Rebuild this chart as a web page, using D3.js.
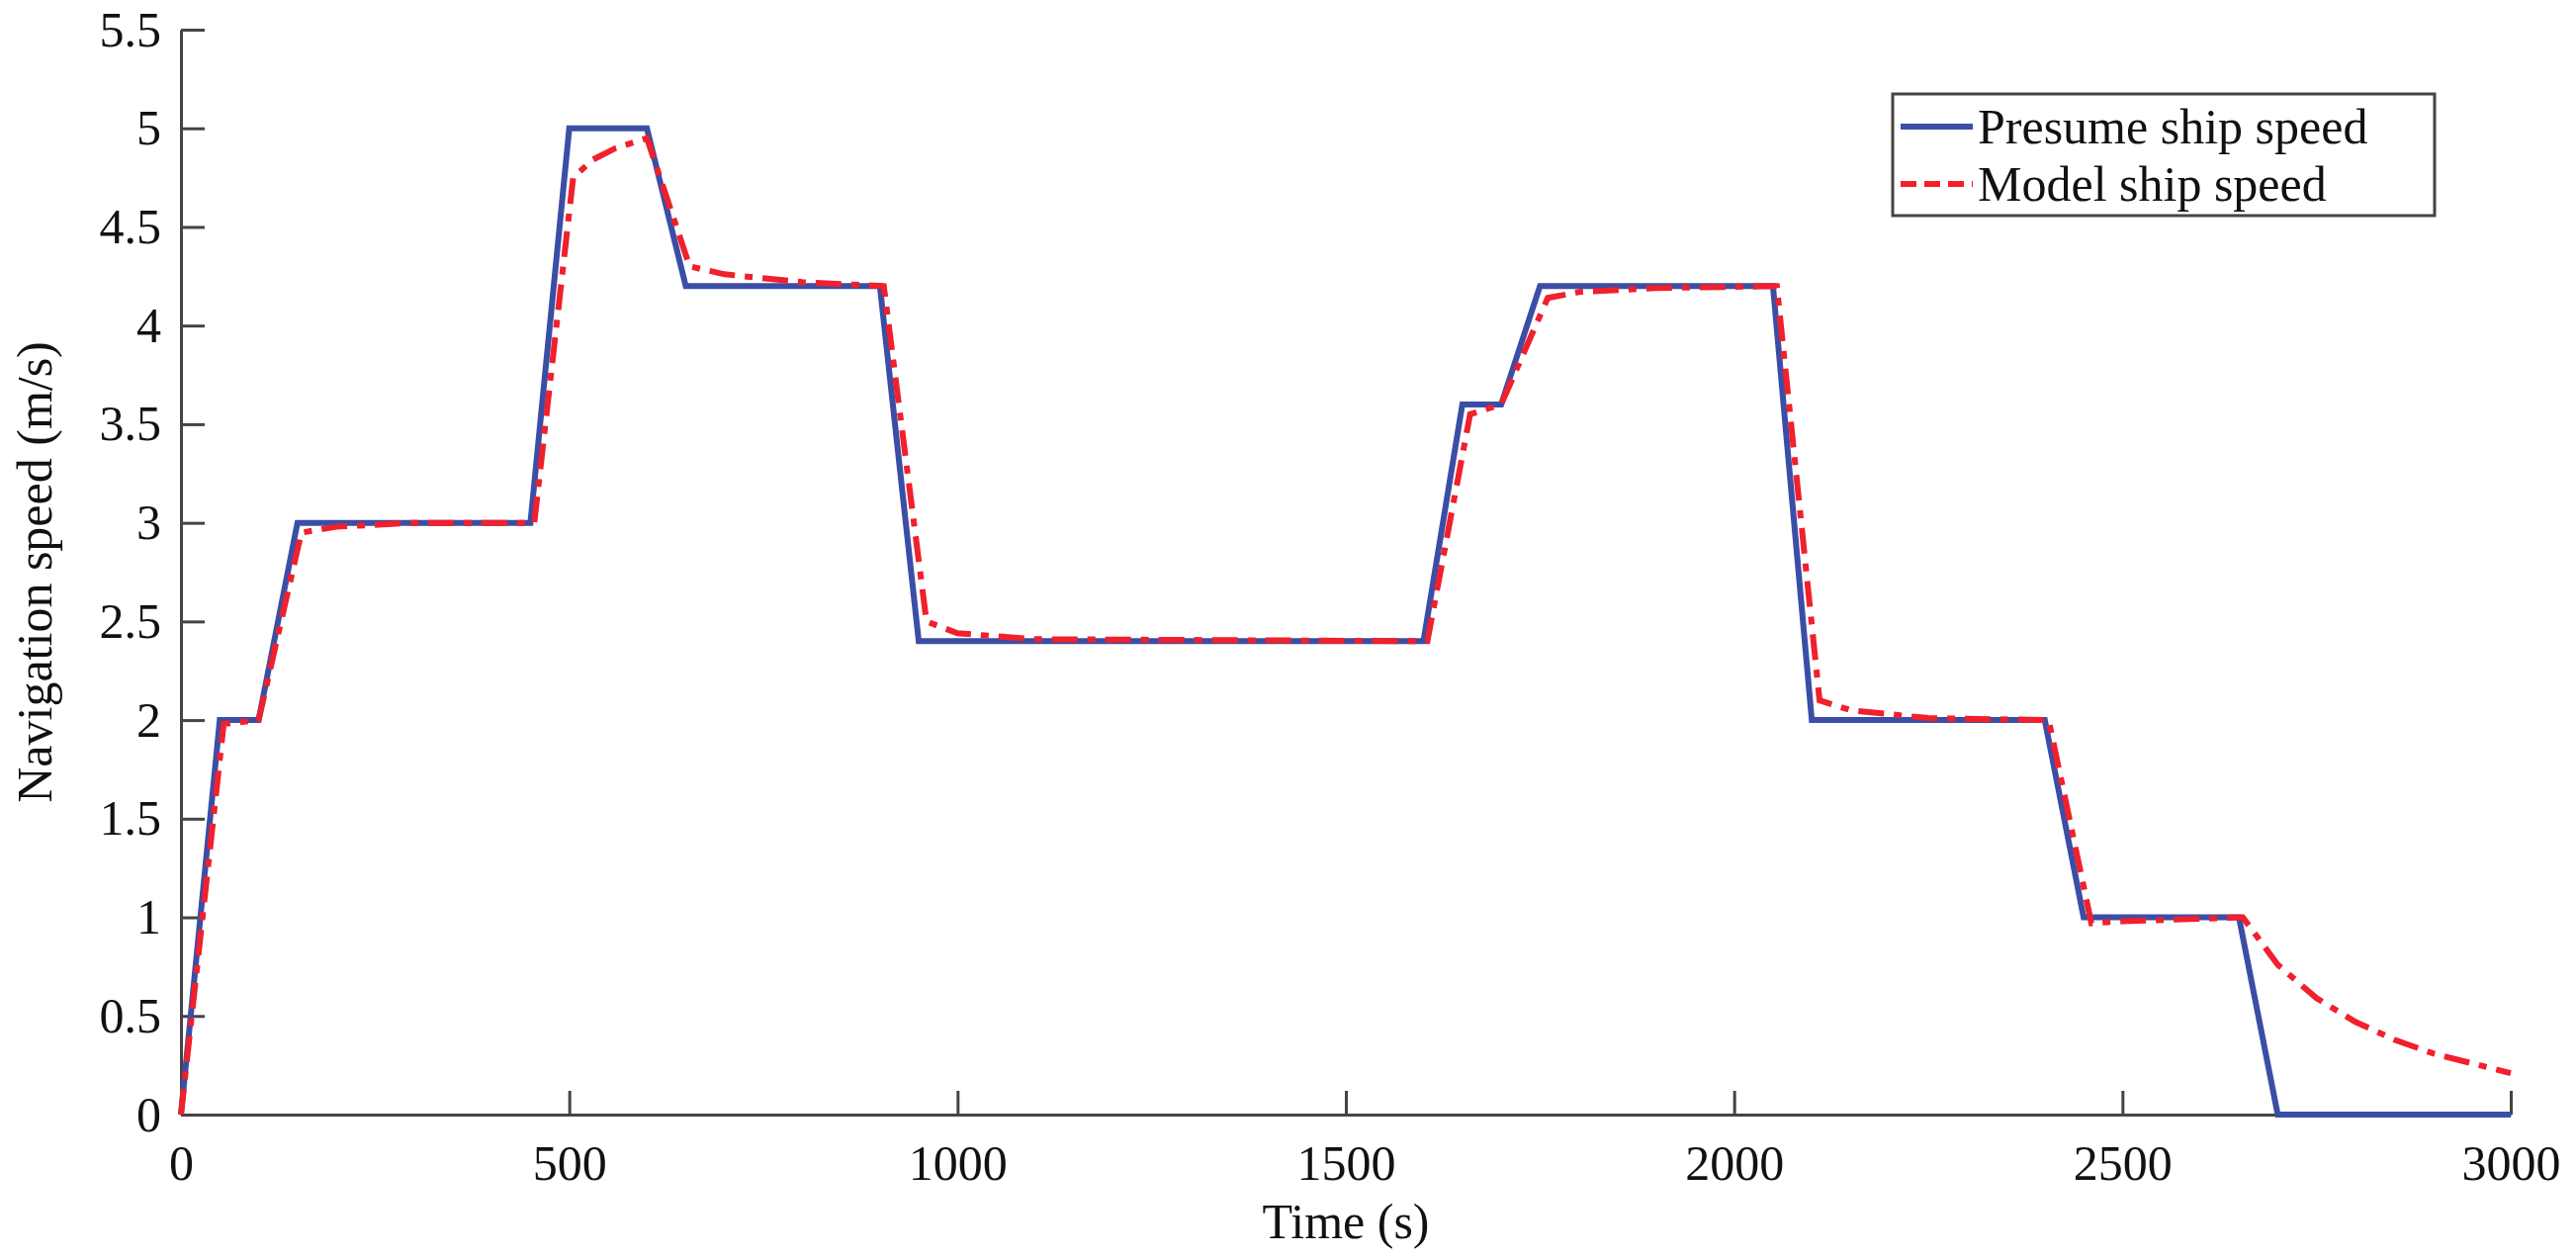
<!DOCTYPE html>
<html>
<head>
<meta charset="utf-8">
<script src="https://cdn.jsdelivr.net/npm/d3@7"></script>
<style>
  body { margin: 0; background: #fff; }
  svg text { font-family: "Liberation Serif", Tinos, "Times New Roman", Times, "DejaVu Serif", serif !important; fill: #111; }
</style>
</head>
<body>
<svg width="2605" height="1271"></svg>
<script>
// presumed speed profile (s, m/s)
const presumeT = [0, 50, 100, 150, 450, 500, 600, 650, 900, 950, 1600, 1650, 1700, 1750, 2050, 2100, 2400, 2450, 2650, 2700, 3000];
const presumeV = [0, 2, 2, 3, 3, 5, 5, 4.2, 4.2, 2.4, 2.4, 3.6, 3.6, 4.2, 4.2, 2, 2, 1, 1, 0, 0];

// model response
const modelT = [0, 55, 100, 155, 200, 300, 455, 505, 530, 560, 600, 655, 700, 800, 905, 960, 1000, 1100, 1605, 1660, 1700, 1760, 1800, 1900, 2055, 2110, 2150, 2250, 2405, 2460, 2500, 2655, 2700, 2750, 2800, 2850, 2900, 2950, 3000];
const modelV = [0, 1.98, 2.0, 2.95, 2.98, 3.0, 3.0, 4.75, 4.84, 4.9, 4.95, 4.3, 4.26, 4.22, 4.2, 2.5, 2.44, 2.41, 2.4, 3.55, 3.6, 4.14, 4.17, 4.19, 4.2, 2.1, 2.05, 2.01, 2.0, 0.97, 0.98, 1.0, 0.76, 0.59, 0.47, 0.38, 0.31, 0.26, 0.21];

const xTicks = [0, 500, 1000, 1500, 2000, 2500, 3000];
const yTicks = [0, 0.5, 1, 1.5, 2, 2.5, 3, 3.5, 4, 4.5, 5, 5.5];

const svg = d3.select("svg");
const x = d3.scaleLinear().domain([0, 3000]).range([183, 2539]);
const y = d3.scaleLinear().domain([0, 5.5]).range([1127, 30]);

const xAxis = svg.append("g")
  .attr("transform", `translate(0,${y(0)})`)
  .call(d3.axisBottom(x).tickValues(xTicks).tickSize(-24).tickPadding(30).tickSizeOuter(0).tickFormat(d3.format("d")));
const yAxis = svg.append("g")
  .attr("transform", `translate(${x(0)},0)`)
  .call(d3.axisLeft(y).tickValues(yTicks).tickSize(-24).tickPadding(20).tickSizeOuter(0).tickFormat(d => d));

[xAxis, yAxis].forEach(g => {
  g.attr("font-family", null);
  g.selectAll("path, line").attr("stroke", "#444").attr("stroke-width", 3);
  g.selectAll("text").attr("font-size", 50).attr("fill", "#111");
});

const line = d3.line().x(d => x(d[0])).y(d => y(d[1]));

svg.append("path")
  .datum(presumeT.map((t, i) => [t, presumeV[i]]))
  .attr("d", line)
  .attr("fill", "none")
  .attr("stroke", "#3b4ea6")
  .attr("stroke-width", 6);

svg.append("path")
  .datum(modelT.map((t, i) => [t, modelV[i]]))
  .attr("d", line)
  .attr("fill", "none")
  .attr("stroke", "#f0202c")
  .attr("stroke-width", 6)
  .attr("stroke-dasharray", "26,10,8,10");

// axis titles
svg.append("text")
  .attr("x", (x(0) + x(3000)) / 2).attr("y", 1252)
  .attr("text-anchor", "middle").attr("font-size", 50)
  .text("Time (s)");
svg.append("text")
  .attr("transform", `translate(52,${(y(0) + y(5.5)) / 2}) rotate(-90)`)
  .attr("text-anchor", "middle").attr("font-size", 50)
  .text("Navigation speed (m/s)");

// legend
const leg = svg.append("g");
leg.append("rect")
  .attr("x", 1914).attr("y", 95).attr("width", 548).attr("height", 123)
  .attr("fill", "#fff").attr("stroke", "#444").attr("stroke-width", 3);
const items = [
  { label: "Presume ship speed", color: "#3b4ea6", dash: null },
  { label: "Model ship speed", color: "#f0202c", dash: "16,8" }
];
items.forEach((it, i) => {
  const cy = 128 + i * 58;
  leg.append("line")
    .attr("x1", 1922).attr("x2", 1995).attr("y1", cy).attr("y2", cy)
    .attr("stroke", it.color).attr("stroke-width", 6)
    .attr("stroke-dasharray", it.dash);
  leg.append("text")
    .attr("x", 2000).attr("y", cy + 17)
    .attr("font-size", 50)
    .text(it.label);
});
</script>
</body>
</html>
